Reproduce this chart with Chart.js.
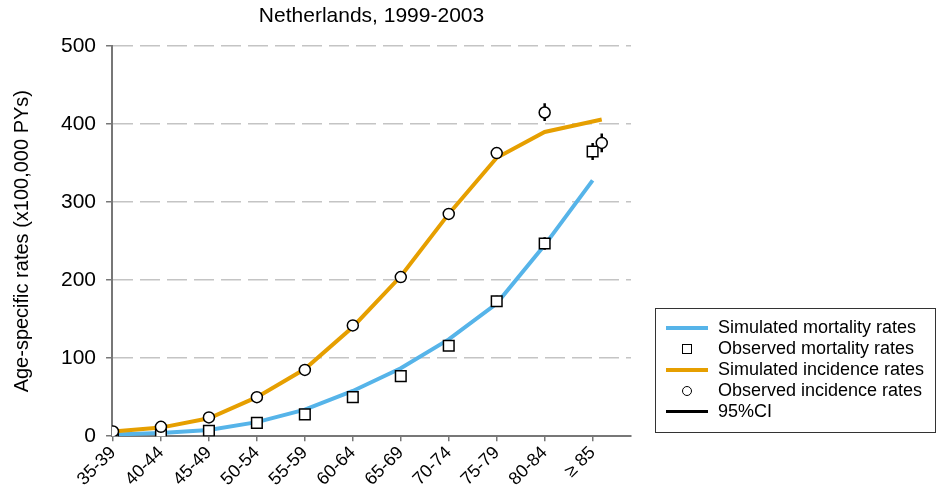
<!DOCTYPE html>
<html>
<head>
<meta charset="utf-8">
<script src="https://cdn.jsdelivr.net/npm/chart.js@4"></script>
<style>
  body { margin: 0; background: #fff; font-family: "Liberation Sans", Arial, sans-serif; }
  #wrap { position: relative; width: 937px; height: 491px; }
  #legend {
    position: absolute; left: 655px; top: 308px; width: 281px; height: 125px;
    border: 1.5px solid #333; box-sizing: border-box; padding-top: 8px;
    font-size: 18px; color: #000;
  }
  .row { height: 21px; line-height: 21px; display: flex; align-items: center; }
  .sw { width: 62px; display: flex; justify-content: center; align-items: center; }
  .ln { width: 42px; height: 4px; }
  .sq { width: 8px; height: 8px; border: 1.5px solid #000; }
  .ci { width: 8px; height: 8px; border: 1.5px solid #000; border-radius: 50%; }
</style>
</head>
<body>
<div id="wrap">
  <canvas id="chart" width="937" height="491"></canvas>
  <div id="legend">
    <div class="row"><div class="sw"><div class="ln" style="background:#56b4e9"></div></div>Simulated mortality rates</div>
    <div class="row"><div class="sw"><div class="sq"></div></div>Observed mortality rates</div>
    <div class="row"><div class="sw"><div class="ln" style="background:#e69f00"></div></div>Simulated incidence rates</div>
    <div class="row"><div class="sw"><div class="ci"></div></div>Observed incidence rates</div>
    <div class="row"><div class="sw"><div class="ln" style="background:#000;height:2.5px"></div></div>95%CI</div>
  </div>
</div>
<script>
const ageGroups = ["35-39", "40-44", "45-49", "50-54", "55-59", "60-64", "65-69", "70-74", "75-79", "80-84", "\u2265 85"];

const simMortality = [2, 4, 8, 18, 34, 58, 87, 124, 170, 245, 328];
const obsMortality = [1, 2, 7, 17, 28, 50, 77, 116, 173, 247, 365];
const obsMortLow   = [0.5, 1, 5.5, 14.5, 25, 46, 72, 110, 166, 239, 354];
const obsMortHigh  = [1.5, 3, 8.5, 19.5, 31, 54, 82, 122, 180, 255, 376];

const simIncidence = [6, 11, 23, 50, 86, 140, 205, 285, 357, 390, 406];
const obsIncidence = [6, 12, 24, 50, 85, 142, 204, 285, 363, 415, 376];
const obsIncLow    = [5, 10.5, 22, 47, 81, 137, 198, 278, 356, 404, 364];
const obsIncHigh   = [7, 13.5, 26, 53, 89, 147, 210, 292, 370, 427, 388];

const yTicks = [0, 100, 200, 300, 400, 500];

// the last incidence points sit a little to the right of the >= 85 tick
const lastShift = 0.19;
const incX = i => i === ageGroups.length - 1 ? i + lastShift : i;

const pts = (vals, xf) => vals.map((v, i) => ({ x: xf ? xf(i) : i, y: v }));
function ciSegments(lo, hi, xf) {
  const out = [];
  lo.forEach((l, i) => {
    const x = xf ? xf(i) : i;
    out.push({ x: x, y: l }, { x: x, y: hi[i] }, { x: x, y: null });
  });
  return out;
}

const font = "'Liberation Sans', Arial, sans-serif";

new Chart(document.getElementById("chart"), {
  type: "line",
  data: {
    datasets: [
      {
        label: "Observed incidence rates",
        data: pts(obsIncidence, incX),
        showLine: false,
        pointStyle: "circle",
        pointRadius: 5.5,
        pointBackgroundColor: "#fff",
        pointBorderColor: "#000",
        pointBorderWidth: 1.5
      },
      {
        label: "Observed mortality rates",
        data: pts(obsMortality),
        showLine: false,
        pointStyle: "rect",
        pointRadius: 7.5,
        pointBackgroundColor: "#fff",
        pointBorderColor: "#000",
        pointBorderWidth: 1.5
      },
      {
        label: "95%CI",
        data: ciSegments(obsIncLow, obsIncHigh, incX).concat(ciSegments(obsMortLow, obsMortHigh)),
        borderColor: "#000",
        borderWidth: 2.5,
        pointRadius: 0,
        spanGaps: false
      },
      {
        label: "Simulated incidence rates",
        data: pts(simIncidence, incX),
        borderColor: "#e69f00",
        borderWidth: 4,
        pointRadius: 0
      },
      {
        label: "Simulated mortality rates",
        data: pts(simMortality),
        borderColor: "#56b4e9",
        borderWidth: 4,
        pointRadius: 0
      }
    ]
  },
  options: {
    responsive: false,
    animation: false,
    layout: { padding: { left: 6, right: 306, top: 0, bottom: 0 } },
    plugins: {
      legend: { display: false },
      tooltip: { enabled: false },
      title: {
        display: true,
        fullSize: false,
        text: "Netherlands, 1999-2003",
        color: "#000",
        font: { family: font, size: 21, weight: "normal" },
        padding: { top: 4, bottom: 17 }
      }
    },
    scales: {
      x: {
        type: "linear",
        min: -0.02,
        max: 10.8,
        afterBuildTicks: s => { s.ticks = ageGroups.map((g, i) => ({ value: i })); },
        ticks: {
          autoSkip: false,
          minRotation: 45,
          maxRotation: 45,
          color: "#000",
          font: { family: font, size: 18 },
          padding: 1,
          callback: v => ageGroups[v]
        },
        grid: { drawOnChartArea: false, color: "#777", tickColor: "#777", tickLength: 5, lineWidth: 1.5 },
        border: { color: "#777", width: 2 }
      },
      y: {
        min: 0,
        max: 500,
        afterBuildTicks: s => { s.ticks = yTicks.map(v => ({ value: v })); },
        title: {
          display: true,
          text: "Age-specific rates (x100,000 PYs)",
          color: "#000",
          font: { family: font, size: 20 },
          padding: { bottom: 17 }
        },
        ticks: { color: "#000", font: { family: font, size: 21 }, padding: 10 },
        grid: {
          color: c => c.tick.value === 0 ? "rgba(0,0,0,0)" : "#c4c4c4",
          lineWidth: 1.5,
          tickColor: "#777",
          tickLength: 6,
          tickBorderDash: []
        },
        border: { color: "#777", width: 2, dash: [20, 7] }
      }
    }
  }
});
</script>
</body>
</html>
